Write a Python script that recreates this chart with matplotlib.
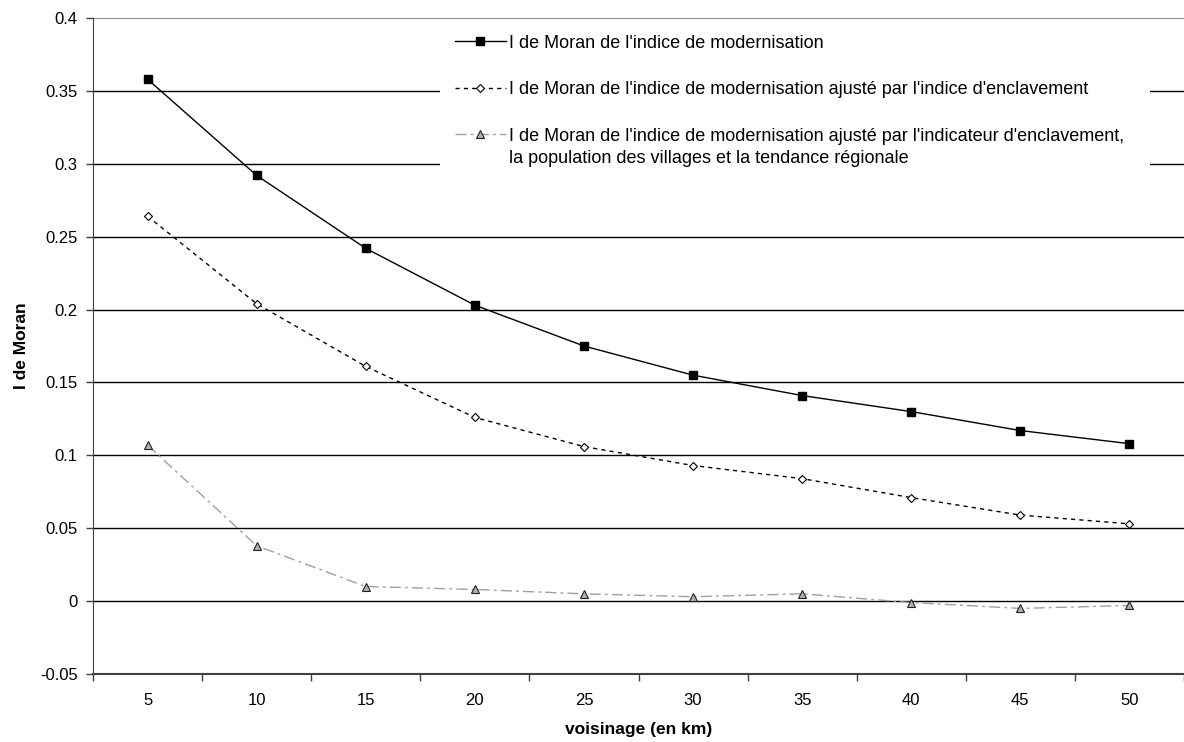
import numpy as np
import matplotlib.pyplot as plt
from matplotlib.patches import Rectangle

plt.rcParams['font.family'] = ['Liberation Sans', 'DejaVu Sans']

voisinage = [5, 10, 15, 20, 25, 30, 35, 40, 45, 50]
moran_modern = [0.358, 0.292, 0.242, 0.203, 0.175, 0.155, 0.141, 0.130, 0.117, 0.108]
moran_enclav = [0.264, 0.204, 0.161, 0.126, 0.106, 0.093, 0.084, 0.071, 0.059, 0.053]
moran_complet = [0.107, 0.038, 0.010, 0.008, 0.005, 0.003, 0.005, -0.001, -0.005, -0.003]

labels = [
    "I de Moran de l'indice de modernisation",
    "I de Moran de l'indice de modernisation ajusté par l'indice d'enclavement",
    "I de Moran de l'indice de modernisation ajusté par l'indicateur d'enclavement,",
]
label_suite = "la population des villages et la tendance régionale"

W, H = 1184, 742
fig = plt.figure(figsize=(W / 100, H / 100), dpi=100)
ax = fig.add_axes([93 / W, 68 / H, 1 - 93 / W, 656 / H])

pos = np.arange(len(voisinage))
ax.plot(pos, moran_modern, color='black', lw=1, marker='s', ms=6,
        mfc='black', mec='black', label=labels[0], zorder=3)
ax.plot(pos, moran_enclav, color='black', lw=1, ls=(0, (3, 3)), marker='D', ms=4,
        mfc='white', mec='black', mew=0.8, label=labels[1], zorder=3)
ax.plot(pos, moran_complet, color='#a0a0a0', lw=1, ls=(0, (8, 3, 2, 3)), marker='^', ms=6,
        mfc='#b0b0b0', mec='#202020', mew=0.8, label=labels[2], zorder=3)

ax.set_xlim(-0.5, len(voisinage) - 0.5)
ax.set_ylim(-0.05, 0.4)
ax.set_yticks(np.arange(-0.05, 0.401, 0.05))
ax.set_yticklabels(['-0.05', '0', '0.05', '0.1', '0.15', '0.2', '0.25', '0.3', '0.35', '0.4'])
ax.set_xticks(pos)
ax.set_xticklabels([str(v) for v in voisinage])
ax.set_xticks(np.arange(-0.5, len(voisinage), 1), minor=True)
ax.tick_params(axis='x', which='major', length=0, pad=14, labelsize=12)
ax.tick_params(axis='x', which='minor', length=5, width=1, color='#404040', direction='out')
ax.tick_params(axis='y', length=5, width=1, color='#404040', labelsize=12, pad=6)

for y in np.arange(0.0, 0.351, 0.05):
    ax.axhline(y, color='black', lw=1, zorder=1)
ax.axhline(0.4, color='#909090', lw=0.8, zorder=1)

for s in ['top', 'right']:
    ax.spines[s].set_visible(False)
ax.spines['left'].set_color('#404040')
ax.spines['bottom'].set_color('#404040')
ax.spines['bottom'].set_linewidth(1.5)

ax.set_xlabel('voisinage (en km)', fontsize=12.5, fontweight='bold', labelpad=10)
ax.set_ylabel('I de Moran', fontsize=12.5, fontweight='bold', labelpad=8)

# fond blanc de la légende
ax.add_patch(Rectangle((0.318, 0.765), 0.651, 0.223, transform=ax.transAxes,
                       facecolor='white', edgecolor='none', zorder=2))

leg = ax.legend(loc='upper left', bbox_to_anchor=(0.332, 0.9744), fontsize=13,
                frameon=False, handlelength=2.8, labelspacing=1.63, handletextpad=0.2,
                borderpad=0, borderaxespad=0)
leg.set_zorder(5)

fig.canvas.draw()
bb = leg.get_texts()[2].get_window_extent()
fig.text(bb.x0 / W, (bb.y0 - 22) / H, label_suite, fontsize=13, ha='left', va='bottom', zorder=6)

fig.savefig('out.png', dpi=100)
